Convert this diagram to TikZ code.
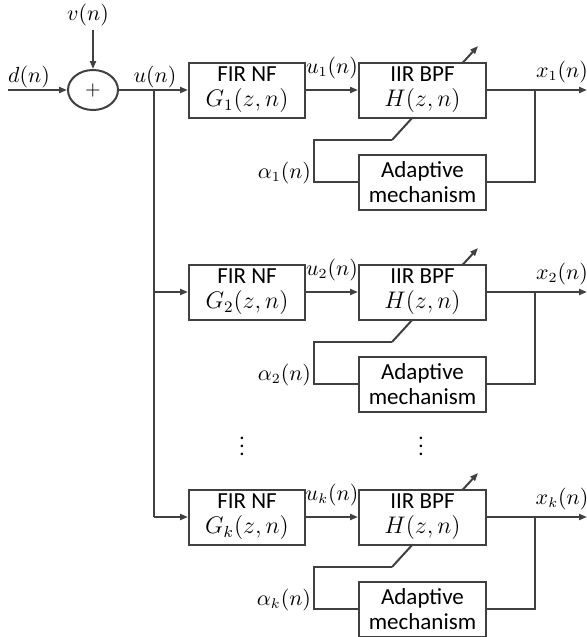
\documentclass[tikz,border=0pt]{standalone}
\usepackage{fontspec}
\setmainfont{Carlito}
\usepackage{tikz}
\usetikzlibrary{arrows.meta, positioning, shapes.geometric, calc}
\definecolor{myline}{RGB}{64, 64, 64}
\pgfdeclarelayer{bg}
\pgfsetlayers{bg,main}

\begin{document}
\begin{tikzpicture}[x=0.5pt, y=-0.5pt,
    >={Triangle[length=4pt, width=3pt]},
    wire/.style={draw=myline, line width=1pt},
    box/.style={draw=myline, line width=1pt, fill=white, align=center,
        minimum height=27.5pt, inner sep=1pt,
        font=\fontsize{11.5}{12.5}\selectfont},
    lbl/.style={font=\fontsize{10.5}{12}\selectfont, inner sep=1pt}]

    \useasboundingbox (0,0) rectangle (587,637);

    % Adder
    \node[draw=myline, line width=1pt, ellipse, minimum width=25pt,
        minimum height=20pt, inner sep=0pt] (S) at (93,90) {$+$};
    \coordinate (D) at (8,90);
    \coordinate (V) at (93,30);
    \node[lbl] (Dl) at (29,77) {$d(n)$};
    \node[lbl] (Vl) at (88,15) {$v(n)$};
    \draw[wire, ->] (D) -- (S);
    \draw[wire, ->] (V) -- (S);

    % Input bus
    \coordinate (B1) at (154,90);
    \coordinate (B2) at (154,292);
    \coordinate (Bk) at (154,517);
    \node[lbl] (U) at (155,77) {$u(n)$};
    \draw[wire] (S) -- (B1) -- (Bk);

    % Filter branches
    \foreach \i/\y in {1/90, 2/292, k/517}
    {
        \node[box, minimum width=58pt] (FIR\i) at (247,\y) {FIR NF\\{\large$G_{\i}(z,n)$}};
        \node[box, minimum width=63.5pt, right=26pt of FIR\i] (IIR\i) {IIR BPF\\{\large$H(z,n)$}};
        \node[box, minimum width=63.5pt, below=17.5pt of IIR\i] (AM\i) {Adaptive\\mechanism};

        \coordinate (O\i) at ($(IIR\i.east)+(48,0)$);
        \coordinate (E\i) at (587,\y);
        \coordinate (T\i) at ($(IIR\i)+(-30.5,50)$);
        \coordinate (A\i) at ($(IIR\i)+(55.5,-44)$);

        \draw[wire, ->] (B\i) -- (FIR\i);
        \draw[wire, ->] (FIR\i) -- (IIR\i) node[lbl, midway, above=4pt] {$u_{\i}(n)$};
        \draw[wire, ->] (IIR\i) -- (E\i) node[lbl, pos=0.75, above=2pt] {$x_{\i}(n)$};
        \draw[wire] (O\i) |- (AM\i.east);
        \draw[wire] (AM\i.west) -- ++(-44,0) node[lbl, left, yshift=4.5pt] {$\alpha_{\i}(n)$} |- (T\i);

        \begin{pgfonlayer}{bg}
            \draw[wire, ->] (T\i) -- (A\i);
        \end{pgfonlayer}
    }

    % Dots
    \node[lbl] (Z1) at (242,440) {$\vdots$};
    \node[lbl] (Z2) at (421,440) {$\vdots$};

\end{tikzpicture}
\end{document}
